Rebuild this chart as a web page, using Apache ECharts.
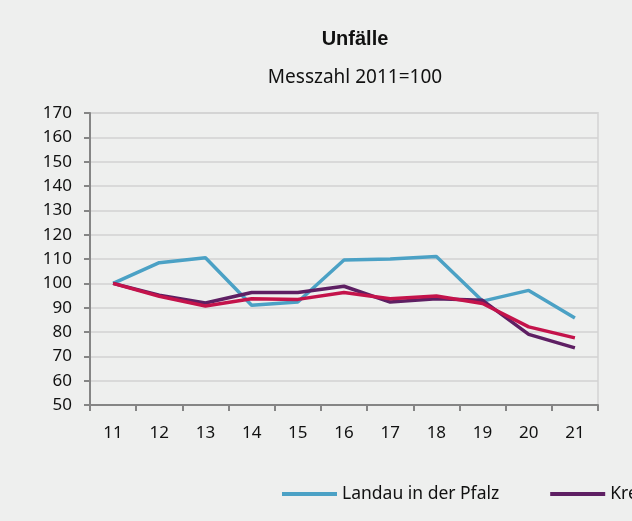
<!DOCTYPE html>
<html>
<head>
<meta charset="utf-8">
<script src="https://cdn.jsdelivr.net/npm/echarts@6/dist/echarts.min.js"></script>
<style>
html,body{margin:0;padding:0;background:#eeefee;}
#chart{width:632px;height:521px;}
</style>
</head>
<body>
<div id="chart"></div>
<script>
const categories = ['11','12','13','14','15','16','17','18','19','20','21'];
const seriesNames = ['Landau in der Pfalz','Kreis Südliche Weinstraße','Rheinland-Pfalz'];
const landau = [100, 108.5, 110.5, 91, 92.3, 109.6, 110, 111, 92.7, 97.1, 85.8];
const kreis = [100, 95.1, 91.9, 96.2, 96.2, 98.8, 92.3, 93.7, 93, 79, 73.5];
const rlp = [100, 94.7, 90.7, 93.7, 93.4, 96.2, 93.7, 94.8, 91.7, 82.1, 77.6];
const yTicks = {min: 50, max: 170, interval: 10};
const colors = ['#4ba1c5', '#5e1f63', '#c4134b'];

const font = '"Noto Sans", "Open Sans", sans-serif';
const chart = echarts.init(document.getElementById('chart'));
const values = [landau, kreis, rlp];
chart.setOption({
  backgroundColor: '#eeefee',
  animation: false,
  color: colors,
  title: [
    {text: 'Unfälle', left: 350, top: 24, textAlign: 'center',
     textStyle: {fontFamily: 'Liberation Sans, Arial, sans-serif', fontWeight: 'bold', fontSize: 20, color: '#111'}},
    {text: 'Messzahl 2011=100', left: 350, top: 63, textAlign: 'center',
     textStyle: {fontFamily: font, fontWeight: 'normal', fontSize: 19, color: '#111'}}
  ],
  legend: {
    left: 277, top: 480, width: 1200,
    itemWidth: 55, itemHeight: 4, itemGap: 51, icon: 'rect',
    textStyle: {fontFamily: font, fontSize: 17.5, color: '#111'},
    data: seriesNames
  },
  grid: {left: 90, right: 34, top: 113, bottom: 116, show: true, borderColor: '#dadada', borderWidth: 2, backgroundColor: 'transparent'},
  xAxis: {
    type: 'category', data: categories, boundaryGap: true,
    axisLine: {lineStyle: {color: '#858585', width: 2}},
    axisTick: {show: true, interval: 0, length: 6, lineStyle: {color: '#858585', width: 2}},
    axisLabel: {margin: 20, fontFamily: font, fontSize: 17, color: '#111'},
    splitLine: {show: false}
  },
  yAxis: {
    type: 'value', min: yTicks.min, max: yTicks.max, interval: yTicks.interval,
    axisLine: {show: true, lineStyle: {color: '#858585', width: 2}},
    axisTick: {show: true, length: 6, lineStyle: {color: '#858585', width: 2}},
    axisLabel: {margin: 18, fontFamily: font, fontSize: 17, color: '#111'},
    splitLine: {show: true, lineStyle: {color: '#d2d2d2', width: 1.5}}
  },
  series: seriesNames.map((n, i) => ({
    name: n, type: 'line', data: values[i], showSymbol: false, symbol: 'none',
    lineStyle: {width: 3.5, color: colors[i]}, itemStyle: {color: colors[i]}
  }))
});
</script>
</body>
</html>
